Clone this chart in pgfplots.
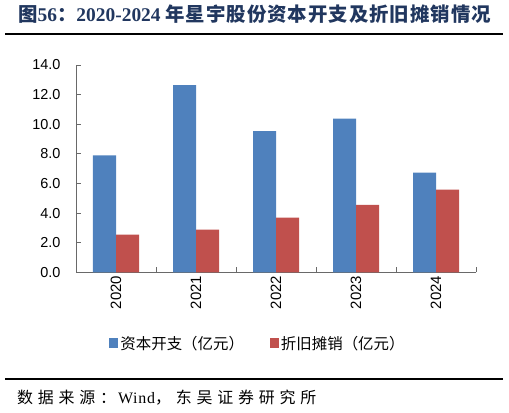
\documentclass[border=0pt]{standalone}
\usepackage{fontspec}
\setmainfont{Liberation Sans}
\newfontfamily\cjk{Noto Sans CJK SC}
\newfontfamily\serif{Liberation Serif}
\usepackage{pgfplots}
\usepackage{pgfplotstable}
\pgfplotsset{compat=1.18}

\definecolor{capblue}{RGB}{79,129,189}
\definecolor{depred}{RGB}{192,80,77}
\definecolor{axisgray}{RGB}{105,105,105}
\definecolor{titlenavy}{RGB}{33,55,95}

% capex and depreciation, 100m CNY
\pgfplotstableread{
x capex dep
0 7.90 2.55
1 12.64 2.88
2 9.53 3.70
3 10.38 4.55
4 6.74 5.59
}\datatable

\begin{document}
\begin{tikzpicture}
\path[use as bounding box] (0,0) rectangle (509bp,-413bp);

% title
\node[anchor=west, inner sep=0, text=titlenavy] at (18bp,-14bp)
  {\fontsize{19.5}{19.5}\selectfont\cjk\bfseries\addfontfeature{LetterSpace=5}图{\serif\bfseries 56}：{\serif\bfseries 2020-2024 }年星宇股份资本开支及折旧摊销情况};
\draw[line width=2bp] (5bp,-33.5bp) -- (503bp,-33.5bp);

\begin{axis}[
  at={(76bp,-272.3bp)}, anchor=south west,
  scale only axis, width=400bp, height=207.3bp,
  ybar=0pt, bar width=23bp,
  legend image code/.code={\fill[#1] (0bp,-5bp) rectangle (9bp,5bp);},
  xmin=-0.5, xmax=4.5, ymin=0, ymax=14,
  axis x line*=bottom, axis y line*=left,
  axis line style={draw=axisgray, line width=1bp},
  tick style={draw=axisgray, line width=1bp},
  tick align=inside, major tick length=5bp,
  xtick={-0.5,0.5,...,4.5},
  x tick label as interval,
  xticklabels={2020,2021,2022,2023,2024},
  x tick label style={rotate=90, anchor=east, font=\fontsize{15}{15}\selectfont},
  ytick={0,2,...,14},
  yticklabel style={font=\fontsize{14.5}{14.5}\selectfont, xshift=-12bp},
  /pgf/number format/.cd, fixed, fixed zerofill, precision=1, assume math mode=true, /pgfplots/.cd,
  legend columns=2,
  legend style={at={(0.455,-0.342)}, anchor=center, draw=none, fill=none,
    font=\cjk\fontsize{15.5}{15.5}\selectfont,
    /tikz/every even column/.append style={column sep=24bp}},
]
\addplot[fill=capblue, draw=none] table[x=x, y=capex] {\datatable};
\addplot[fill=depred, draw=none] table[x=x, y=dep] {\datatable};
\legend{资本开支（亿元）, 折旧摊销（亿元）}
\end{axis}

\draw[line width=2bp] (5bp,-378.5bp) -- (503bp,-378.5bp);
\node[anchor=west, inner sep=0] at (17bp,-397.5bp)
  {\fontsize{16}{16}\selectfont\cjk\addfontfeature{LetterSpace=30}数据来源：\hspace{2bp}{\serif\addfontfeature{LetterSpace=5}Wind}，东吴证券研究所};
\end{tikzpicture}
\end{document}
